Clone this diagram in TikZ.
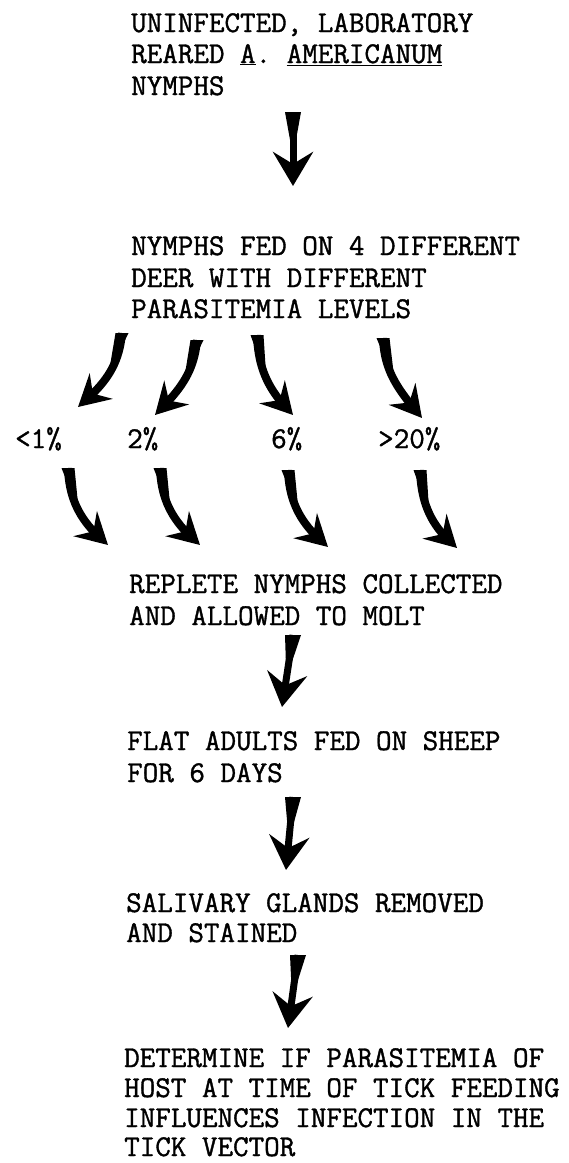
\documentclass[tikz,border=0pt]{standalone}
\usepackage{fontspec}
\setmonofont{Latin Modern Mono}[FakeBold=1.2]
\usetikzlibrary{arrows.meta,bending,calc}
\tikzset{
  txt/.style={anchor=base west, inner sep=0pt, font=\fontsize{30.2}{31}\ttfamily},
  sarrow/.style={line width=7pt, -{Stealth[length=34pt,width=40pt,inset=12pt]}},
  carrow/.style={line width=8pt, -{Stealth[length=31pt,width=34pt,inset=11pt]}},
}
\begin{document}
\begin{tikzpicture}[x=1pt,y=-1pt]
\useasboundingbox (0,0) rectangle (569,1163);
% block 1
\node[txt] (t1a) at (131,32) {UNINFECTED, LABORATORY};
\node[txt] (t1b) at (131,63) {REARED \underline{A}. \underline{AMERICANUM}};
\node[txt] (t1c) at (131,95) {NYMPHS};
% block 2
\node[txt] (t2a) at (131,255) {NYMPHS FED ON 4 DIFFERENT};
\node[txt] (t2b) at (131,287) {DEER WITH DIFFERENT};
\node[txt] (t2c) at (131,318) {PARASITEMIA LEVELS};
% levels
\node[txt] (l1) at (15,448) {<1\%};
\node[txt] (l2) at (127,448) {2\%};
\node[txt] (l3) at (271,448) {6\%};
\node[txt] (l4) at (378,448) {>20\%};
% block 3
\node[txt] (t3a) at (129,593) {REPLETE NYMPHS COLLECTED};
\node[txt] (t3b) at (129,625) {AND ALLOWED TO MOLT};
% block 4
\node[txt] (t4a) at (127,750) {FLAT ADULTS FED ON SHEEP};
\node[txt] (t4b) at (127,782) {FOR 6 DAYS};
% block 5
\node[txt] (t5a) at (126,912) {SALIVARY GLANDS REMOVED};
\node[txt] (t5b) at (126,942) {AND STAINED};
% block 6
\node[txt] (t6a) at (124,1067) {DETERMINE IF PARASITEMIA OF};
\node[txt] (t6b) at (124,1097) {HOST AT TIME OF TICK FEEDING};
\node[txt] (t6c) at (124,1127) {INFLUENCES INFECTION IN THE};
\node[txt] (t6d) at (124,1156) {TICK VECTOR};

% straight arrows
\coordinate (s1) at (293,112); \coordinate (e1) at (293,186);
\coordinate (s2) at (293,635); \coordinate (e2) at (282,707);
\coordinate (s3) at (293,797); \coordinate (e3) at (286,870);
\coordinate (s4) at (298,955); \coordinate (e4) at (288,1028);
\foreach \i in {1,2,3,4}{
  \fill (s\i) ++(-8,0) -- ++(16,0) -- ($(s\i)!0.6!(e\i)$) -- cycle;
  \draw[sarrow] (s\i) -- (e\i);
}

% curved arrows: start, end, out, in
\foreach \n/\x/\y/\X/\Y/\o/\j in {
  a/122/333/78/407/-95/40, b/197/340/155/415/-95/45,
  c/257/335/293/415/-88/135, d/383/338/422/418/-88/130,
  e/68/468/108/545/-88/140, f/160/468/200/545/-88/140,
  g/288/470/328/547/-88/140, h/420/470/457/548/-88/140}{
  \coordinate (u\n) at (\x,\y); \coordinate (v\n) at (\X,\Y);
  \path (u\n) to[out=\o,in=\j] coordinate[pos=0.5] (m\n) (v\n);
  \fill (u\n) ++(-6.5,0) -- ++(13,0) -- (m\n) -- cycle;
  \draw[carrow] (u\n) to[out=\o,in=\j] (v\n);
}
\end{tikzpicture}
\end{document}
